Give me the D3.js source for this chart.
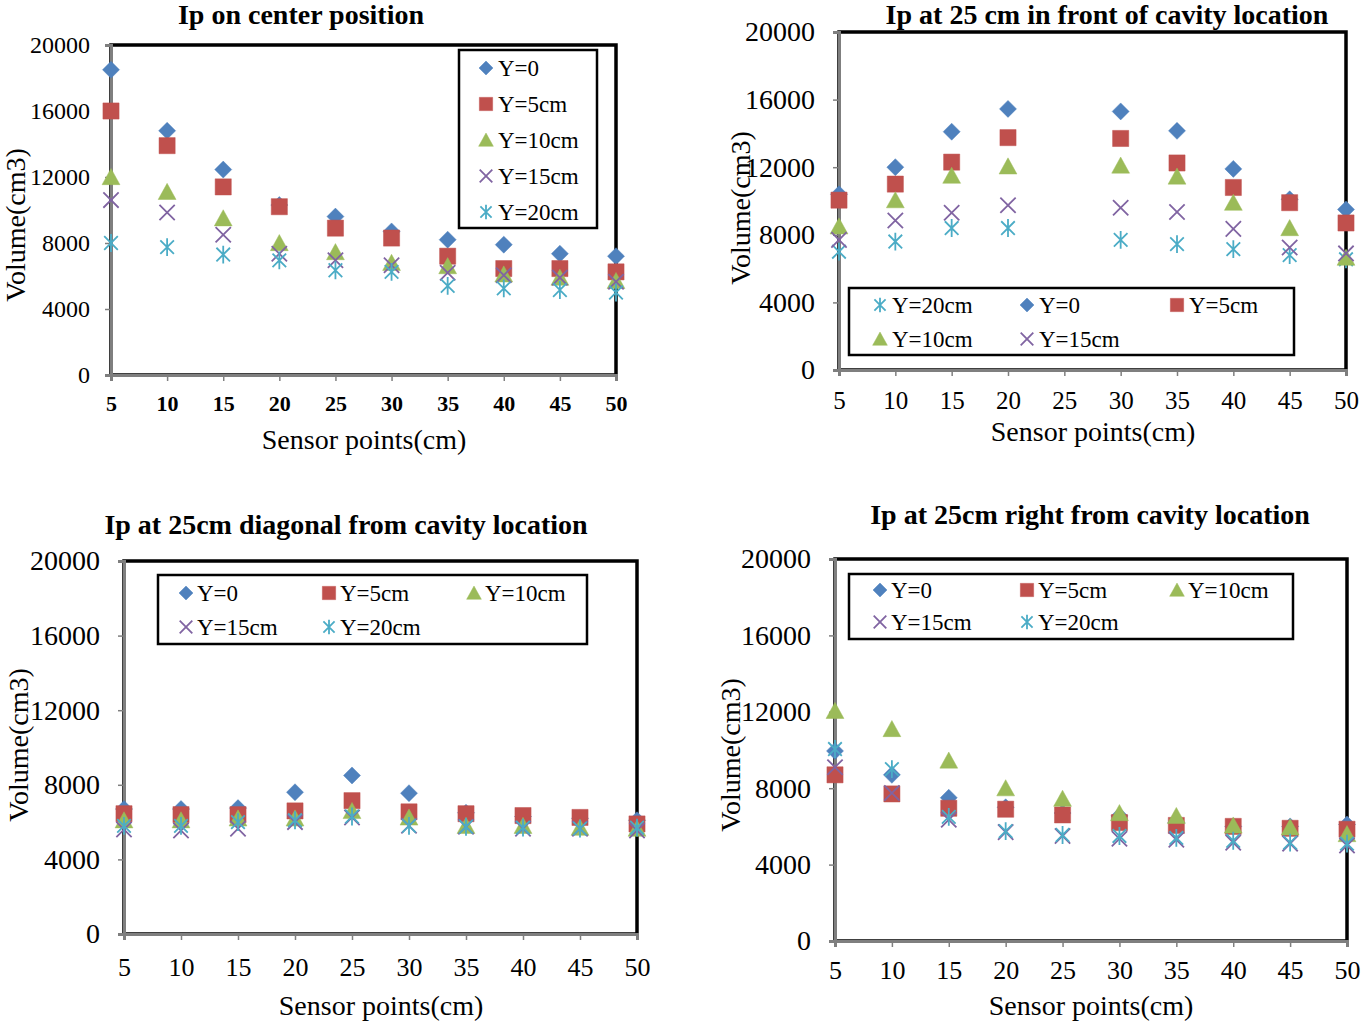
<!DOCTYPE html>
<html><head><meta charset="utf-8">
<script src="https://cdn.jsdelivr.net/npm/d3@7"></script>
<style>
html,body{margin:0;padding:0;background:#fff;}
svg{display:block;}
text{font-family:"Liberation Serif","Times New Roman",serif;fill:#000;}
</style></head><body>
<svg id="chart" width="1362" height="1025"></svg>
<script>
// ---------- data ----------
const sensorPoints = [5,10,15,20,25,30,35,40,45,50];
const yTicks = [0,4000,8000,12000,16000,20000];
const seriesNames = ["Y=0","Y=5cm","Y=10cm","Y=15cm","Y=20cm"];
const seriesColors = ["#4F81BD","#C0504D","#9BBB59","#8064A2","#4BACC6"];
const seriesMarkers = ["diamond","square","triangle","cross","star"];
const panelTitles = ["Ip on center position","Ip at 25 cm in front of cavity location",
  "Ip at 25cm diagonal from cavity location","Ip at 25cm right from cavity location"];
const xAxisTitle = "Sensor points(cm)";
const yAxisTitle = "Volume(cm3)";

// Ip on center position (rows: Y=0, 5, 10, 15, 20 cm)
const centerValues = [
  [18500,14800,12450,10300,9600,8700,8200,7900,7350,7200],
  [16000,13900,11400,10200,8900,8300,7200,6450,6450,6250],
  [12000,11100,9500,8000,7450,6800,6600,6100,5900,5700],
  [10600,9850,8500,7350,6950,6650,6200,6050,5900,5650],
  [8000,7750,7300,6950,6350,6250,5400,5250,5150,5000]
];
// Ip at 25 cm in front of cavity location (no value at 25)
const frontValues = [
  [10400,12000,14100,15450,null,15300,14150,11900,10100,9500],
  [10050,11000,12300,13750,null,13700,12250,10800,9900,8700],
  [8500,10050,11500,12050,null,12100,11450,9900,8400,6650],
  [7700,8850,9300,9750,null,9600,9350,8350,7250,6900],
  [7000,7600,8400,8400,null,7700,7450,7150,6800,6550]
];
// Ip at 25cm diagonal from cavity location
const diagonalValues = [
  [6700,6700,6750,7600,8500,7550,6500,6300,6200,6100],
  [6450,6400,6400,6600,7150,6550,6450,6350,6250,5900],
  [6100,6100,6200,6200,6600,6250,5800,5800,5700,5650],
  [5600,5550,5650,6000,6250,5800,5750,5650,5650,5550],
  [5800,5800,6000,6100,6300,5800,5750,5700,5650,5700]
];
// Ip at 25cm right from cavity location
const rightValues = [
  [9950,8700,7500,7000,6700,6550,6200,6000,6000,6100],
  [8700,7700,6950,6900,6600,6200,6050,6000,5900,5850],
  [12050,11100,9450,8000,7450,6700,6550,6050,5950,5600],
  [9100,7750,6350,5700,5500,5350,5300,5150,5100,5000],
  [10050,9000,6500,5750,5550,5500,5400,5250,5150,5100]
];

// ---------- layout ----------
const panels = [
  { values:centerValues, order:[0,1,2,3,4], title:panelTitles[0],
    x0:111, x1:616, y0:45, y1:375,
    titleX:301, titleY:24, titleSize:28,
    yTickSize:24, yTickPad:15, xTickSize:22, xTickBold:true, xTickPad:14,
    xLabelX:364, xLabelY:449, yLabelX:25, yLabelY:225,
    legend:{x:459,y:50,w:138,h:178, items:[[0,486,68],[1,486,104],[2,486,140],[3,486,176],[4,486,212]], tdx:12}
  },
  { values:frontValues, order:[4,0,1,2,3], title:panelTitles[1],
    x0:839, x1:1346, y0:32, y1:370,
    titleX:1107, titleY:24, titleSize:28,
    yTickSize:28, yTickPad:18, xTickSize:25, xTickBold:false, xTickPad:15,
    xLabelX:1093, xLabelY:441, yLabelX:750, yLabelY:208,
    legend:{x:849,y:288,w:445,h:67, items:[[4,880,305],[0,1027,305],[1,1177,305],[2,880,339],[3,1027,339]], tdx:12}
  },
  { values:diagonalValues, order:[0,1,2,3,4], title:panelTitles[2],
    x0:124, x1:637, y0:561, y1:934,
    titleX:346, titleY:534, titleSize:28,
    yTickSize:28, yTickPad:18, xTickSize:26, xTickBold:false, xTickPad:18,
    xLabelX:381, xLabelY:1015, yLabelX:28, yLabelY:745,
    legend:{x:158,y:575,w:429,h:69, items:[[0,186,593],[1,329,593],[2,474,593],[3,186,627],[4,329,627]], tdx:11}
  },
  { values:rightValues, order:[0,1,2,3,4], title:panelTitles[3],
    x0:835, x1:1347, y0:559, y1:941,
    titleX:1090, titleY:524, titleSize:28,
    yTickSize:28, yTickPad:18, xTickSize:26, xTickBold:false, xTickPad:14,
    xLabelX:1091, xLabelY:1015, yLabelX:740, yLabelY:755,
    legend:{x:849,y:574,w:444,h:65, items:[[0,880,590],[1,1027,590],[2,1177,590],[3,880,622],[4,1027,622]], tdx:11}
  }
];

function markerPath(type, r) {
  switch (type) {
    case "diamond": return `M0,${-r}L${r},0L0,${r}L${-r},0Z`;
    case "square": { const s = r*0.95; return `M${-s},${-s}H${s}V${s}H${-s}Z`; }
    case "triangle": return `M0,${-r}L${r*1.05},${r*0.9}L${-r*1.05},${r*0.9}Z`;
    case "cross": { const s = r*0.9; return `M${-s},${-s}L${s},${s}M${-s},${s}L${s},${-s}`; }
    case "star": { const s = r*0.8; return `M${-s},${-s}L${s},${s}M${-s},${s}L${s},${-s}M0,${-r*1.05}V${r*1.05}`; }
  }
}
function drawMarker(g, type, color, r) {
  const filled = type==="diamond"||type==="square"||type==="triangle";
  g.append("path").attr("d", markerPath(type, r))
    .attr("fill", filled ? color : "none")
    .attr("stroke", color)
    .attr("stroke-width", filled ? 0.8 : 1.8)
    .attr("stroke-opacity", filled ? 0.6 : 1);
}

const svg = d3.select("#chart");

panels.forEach(p => {
  const g = svg.append("g");
  const x = d3.scaleLinear().domain([5,50]).range([p.x0,p.x1]);
  const y = d3.scaleLinear().domain([0,20000]).range([p.y1,p.y0]);

  // title
  g.append("text").attr("x",p.titleX).attr("y",p.titleY).attr("text-anchor","middle")
    .attr("font-weight","bold").attr("font-size",p.titleSize).text(p.title);

  // plot frame (black)
  g.append("rect").attr("x",p.x0).attr("y",p.y0).attr("width",p.x1-p.x0).attr("height",p.y1-p.y0)
    .attr("fill","none").attr("stroke","#000").attr("stroke-width",3.5);

  // y axis
  const ya = g.append("g").attr("transform",`translate(${p.x0},0)`)
    .call(d3.axisLeft(y).tickValues(yTicks).tickSize(6).tickPadding(p.yTickPad).tickFormat(d3.format("d")));
  ya.select(".domain").attr("stroke","#7f7f7f").attr("stroke-width",3);
  ya.selectAll(".tick line").attr("stroke","#7f7f7f").attr("stroke-width",1.5);
  ya.selectAll(".tick text").attr("font-size",p.yTickSize).attr("font-family",null);

  // x axis
  const xa = g.append("g").attr("transform",`translate(0,${p.y1})`)
    .call(d3.axisBottom(x).tickValues(sensorPoints).tickSize(6).tickPadding(p.xTickPad).tickFormat(d3.format("d")));
  xa.select(".domain").attr("stroke","#7f7f7f").attr("stroke-width",3);
  xa.selectAll(".tick line").attr("stroke","#7f7f7f").attr("stroke-width",1.5);
  xa.selectAll(".tick text").attr("font-size",p.xTickSize).attr("font-family",null)
    .attr("font-weight", p.xTickBold ? "bold" : null);

  // axis titles
  g.append("text").attr("x",p.xLabelX).attr("y",p.xLabelY).attr("text-anchor","middle")
    .attr("font-size",28).text(xAxisTitle);
  g.append("text").attr("transform",`translate(${p.yLabelX},${p.yLabelY}) rotate(-90)`)
    .attr("text-anchor","middle").attr("font-size",28).text(yAxisTitle);

  // series
  p.order.forEach(si => {
    const pts = sensorPoints.map((sp,i)=>({sp, v:p.values[si][i]})).filter(d=>d.v!=null);
    pts.forEach(d => {
      const mg = g.append("g").attr("transform",`translate(${x(d.sp)},${y(d.v)})`);
      drawMarker(mg, seriesMarkers[si], seriesColors[si], 8.5);
    });
  });

  // legend
  const L = p.legend;
  g.append("rect").attr("x",L.x).attr("y",L.y).attr("width",L.w).attr("height",L.h)
    .attr("fill","#fff").attr("stroke","#000").attr("stroke-width",2.5);
  L.items.forEach(([si,lx,ly]) => {
    const mg = g.append("g").attr("transform",`translate(${lx},${ly})`);
    drawMarker(mg, seriesMarkers[si], seriesColors[si], 7);
    g.append("text").attr("x",lx+L.tdx).attr("y",ly).attr("dy","0.35em")
      .attr("font-size",23).text(seriesNames[si]);
  });
});
</script>
</body></html>
